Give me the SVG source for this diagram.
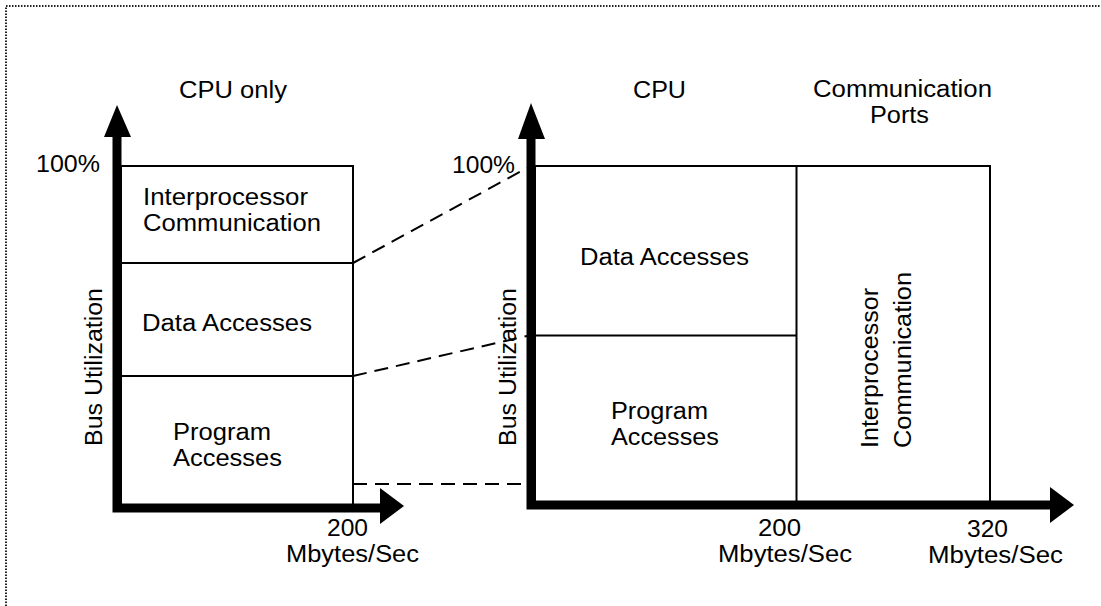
<svg xmlns="http://www.w3.org/2000/svg" width="1101" height="606" viewBox="0 0 1101 606">
  <style>
    text { font-family: "Liberation Sans", Arial, Helvetica, sans-serif; font-size: 23px; fill: #000; }
    .frame { fill: none; stroke: #222; stroke-width: 2; stroke-dasharray: 1.5 1.5; }
    .axis { fill: none; stroke: #000; stroke-width: 9; }
    .head { fill: #000; }
    .box { fill: none; stroke: #000; stroke-width: 2; }
    .dash { fill: none; stroke: #000; stroke-width: 2; stroke-dasharray: 14 8; }
  </style>

  <rect width="1101" height="606" fill="#fff"/>
  <!-- page border (top and left edges) -->
  <path class="frame" d="M6 606 V6 H1101"/>

  <!-- CPU only chart -->
  <g id="chart-cpu-only">
    <text x="179" y="98" textLength="108" lengthAdjust="spacingAndGlyphs">CPU only</text>
    <text x="36" y="172" textLength="64" lengthAdjust="spacingAndGlyphs">100%</text>
    <rect class="box" x="121" y="166" width="232" height="340"/>
    <line class="box" x1="121" y1="263" x2="353" y2="263"/>
    <line class="box" x1="121" y1="376" x2="353" y2="376"/>
    <path class="axis" d="M117 136 V508 H381"/>
    <polygon class="head" points="117,105 104,137 131,137"/>
    <polygon class="head" points="404,506 380,488 380,524"/>
    <text x="143" y="205" textLength="165" lengthAdjust="spacingAndGlyphs">Interprocessor</text>
    <text x="143" y="231" textLength="178" lengthAdjust="spacingAndGlyphs">Communication</text>
    <text x="142" y="331" textLength="170" lengthAdjust="spacingAndGlyphs">Data Accesses</text>
    <text x="173" y="440" textLength="98" lengthAdjust="spacingAndGlyphs">Program</text>
    <text x="173" y="466" textLength="109" lengthAdjust="spacingAndGlyphs">Accesses</text>
    <text x="327" y="536" textLength="41" lengthAdjust="spacingAndGlyphs">200</text>
    <text x="286" y="562" textLength="133" lengthAdjust="spacingAndGlyphs">Mbytes/Sec</text>
    <text transform="translate(102 446) rotate(-90)" textLength="158" lengthAdjust="spacingAndGlyphs">Bus Utilization</text>
  </g>

  <!-- CPU + communication ports chart -->
  <g id="chart-cpu-ports">
    <text x="633" y="98" textLength="53" lengthAdjust="spacingAndGlyphs">CPU</text>
    <text x="813" y="97" textLength="179" lengthAdjust="spacingAndGlyphs">Communication</text>
    <text x="870" y="123" textLength="59" lengthAdjust="spacingAndGlyphs">Ports</text>
    <text x="452" y="173" textLength="63" lengthAdjust="spacingAndGlyphs">100%</text>
    <rect class="box" x="535" y="166" width="455" height="337"/>
    <line class="box" x1="796.5" y1="166" x2="796.5" y2="503"/>
    <line class="box" x1="535" y1="335.5" x2="796.5" y2="335.5"/>
    <path class="axis" d="M531 137 V505 H1051"/>
    <polygon class="head" points="531,103 518,139 545,139"/>
    <polygon class="head" points="1074,505 1050,487 1050,523"/>
    <text x="580" y="265" textLength="169" lengthAdjust="spacingAndGlyphs">Data Accesses</text>
    <text x="611" y="419" textLength="97" lengthAdjust="spacingAndGlyphs">Program</text>
    <text x="611" y="445" textLength="108" lengthAdjust="spacingAndGlyphs">Accesses</text>
    <text transform="translate(878 448) rotate(-90)" textLength="160" lengthAdjust="spacingAndGlyphs">Interprocessor</text>
    <text transform="translate(911 448) rotate(-90)" textLength="176" lengthAdjust="spacingAndGlyphs">Communication</text>
    <text x="758" y="536" textLength="43" lengthAdjust="spacingAndGlyphs">200</text>
    <text x="718" y="562" textLength="134" lengthAdjust="spacingAndGlyphs">Mbytes/Sec</text>
    <text x="967" y="537" textLength="41" lengthAdjust="spacingAndGlyphs">320</text>
    <text x="928" y="563" textLength="135" lengthAdjust="spacingAndGlyphs">Mbytes/Sec</text>
    <text transform="translate(516 446) rotate(-90)" textLength="158" lengthAdjust="spacingAndGlyphs">Bus Utilization</text>
  </g>

  <!-- dashed guides between the two charts -->
  <g id="connectors">
    <line class="dash" x1="353" y1="263" x2="527" y2="168"/>
    <line class="dash" x1="353" y1="376" x2="527" y2="336"/>
    <line class="dash" x1="353" y1="484" x2="527" y2="484"/>
  </g>
</svg>
